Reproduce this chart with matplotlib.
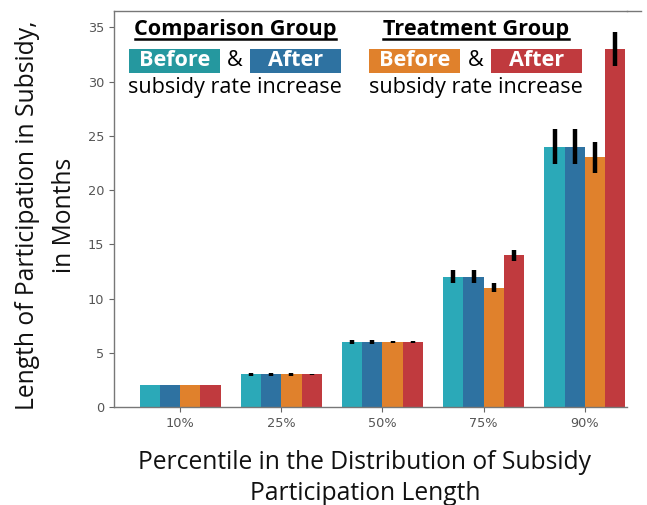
import matplotlib
matplotlib.use("Agg")
import matplotlib.pyplot as plt
from matplotlib.patches import Rectangle
from matplotlib.lines import Line2D
import numpy as np

categories = ["10%", "25%", "50%", "75%", "90%"]
series_names = ["Comparison Before", "Comparison After", "Treatment Before", "Treatment After"]
comp_before = [2, 3, 6, 12, 24]
comp_after = [2, 3, 6, 12, 24]
treat_before = [2, 3, 6, 11, 23]
treat_after = [2, 3, 6, 14, 33]
err_comp_before = [0.0, 0.1, 0.2, 0.6, 1.6]
err_comp_after = [0.0, 0.1, 0.2, 0.6, 1.6]
err_treat_before = [0.0, 0.1, 0.1, 0.4, 1.4]
err_treat_after = [0.0, 0.05, 0.1, 0.5, 1.6]
yticks = [0, 5, 10, 15, 20, 25, 30, 35]

colors = ["#2BA9B8", "#2E72A1", "#E0812C", "#C03A3E"]
legend_colors = ["#25989F", "#2E72A1", "#E0812C", "#C03A3E"]

W, H = 647, 505
fig = plt.figure(figsize=(W / 100, H / 100), dpi=100)
ax = fig.add_axes([114 / W, 1 - 407 / H, (627 - 114) / W, (407 - 11) / H])

values = [comp_before, comp_after, treat_before, treat_after]
errs = [err_comp_before, err_comp_after, err_treat_before, err_treat_after]
x = np.arange(len(categories))
bw = 0.8 / 4
for i, (v, e, c) in enumerate(zip(values, errs, colors)):
    pos = x - 0.4 + bw * (i + 0.5)
    ax.bar(pos, v, width=bw, color=c, edgecolor="none", zorder=2)
    ax.errorbar(pos, v, yerr=e, fmt="none", ecolor="black", elinewidth=3.2, capsize=0, zorder=3)

ax.set_xlim(-0.652, 4.415)
ax.set_ylim(0, 36.5)
ax.set_xticks(x)
ax.set_xticklabels(categories)
ax.set_yticks(yticks)
ax.tick_params(axis="both", labelsize=9.3, labelcolor="#555555", color="#666666", length=3.5, width=0.8)
for s in ["left", "bottom", "top"]:
    ax.spines[s].set_color("#777777")
    ax.spines[s].set_linewidth(1.0)
ax.spines["right"].set_visible(False)


def fx(px):
    return px / W


def fy(py):
    return 1 - py / H


font = "Open Sans"
# top border continues a little past the plot area
fig.add_artist(Line2D([fx(627), fx(641)], [fy(11), fy(11)], color="#777777", lw=1.0))

fig.text(fx(365), fy(478), "Percentile in the Distribution of Subsidy\nParticipation Length",
         ha="center", va="center", fontsize=17.7, family=font, color="#111111", linespacing=1.35)
fig.text(fx(46), fy(215), "Length of Participation in Subsidy,\nin Months", rotation=90,
         ha="center", va="center", fontsize=17.7, family=font, color="#111111", linespacing=1.6)

# Legend block
headers = [("Comparison Group", 235.5), ("Treatment Group", 476)]
for label, cx in headers:
    fig.text(fx(cx), fy(29), label, ha="center", va="center", fontsize=15.6,
             family=font, weight="bold", color="black")
fig.add_artist(Line2D([fx(135), fx(336)], [fy(39), fy(39)], color="black", lw=1.8))
fig.add_artist(Line2D([fx(383), fx(569)], [fy(39), fy(39)], color="black", lw=1.8))

boxes = [(129, 220, "Before", legend_colors[0]), (250, 341, "After", legend_colors[1]),
         (369, 460, "Before", legend_colors[2]), (491, 582, "After", legend_colors[3])]
for x0, x1, lab, col in boxes:
    fig.add_artist(Rectangle((fx(x0), fy(73)), fx(x1 - x0), (73 - 49) / H,
                             facecolor=col, edgecolor="none"))
    fig.text(fx((x0 + x1) / 2), fy(61), lab, ha="center", va="center", fontsize=15.6,
             family=font, weight="bold", color="white")
for cx in [235, 476]:
    fig.text(fx(cx), fy(61), "&", ha="center", va="center", fontsize=15.6, family=font, color="black")
for cx in [235, 475.5]:
    fig.text(fx(cx), fy(88), "subsidy rate increase", ha="center", va="center", fontsize=15.6,
             family=font, color="black")

fig.savefig("out.png", dpi=100)
